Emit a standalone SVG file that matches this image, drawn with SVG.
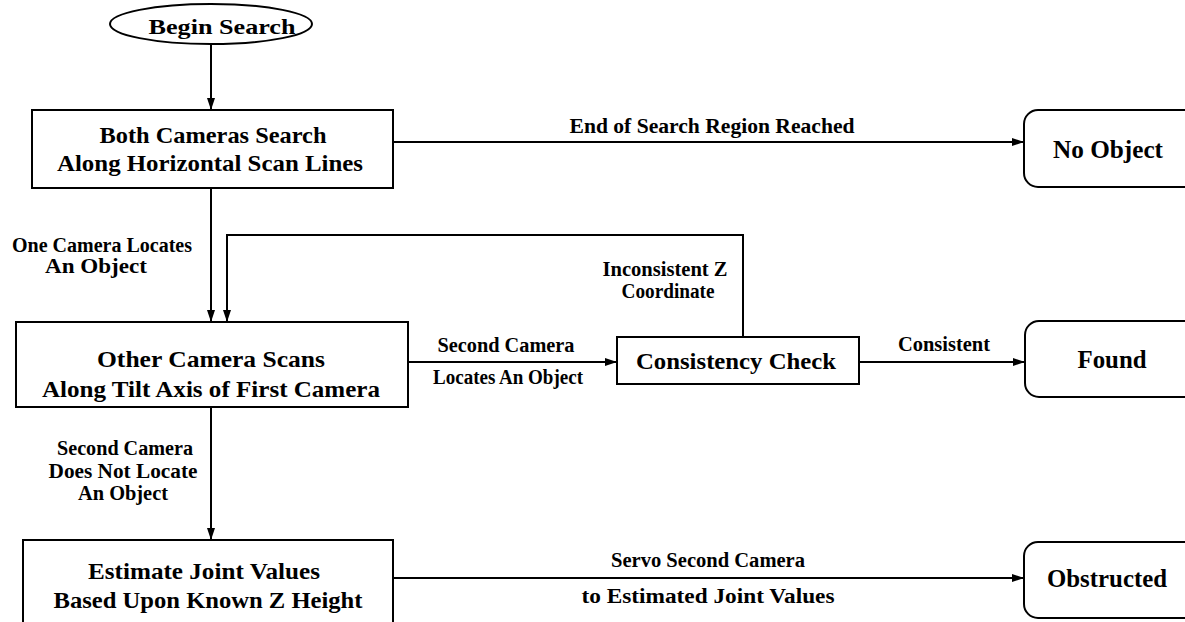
<svg xmlns="http://www.w3.org/2000/svg" width="1185" height="622" viewBox="0 0 1185 622">
  <style>
    .shape { fill: #fff; stroke: #000; stroke-width: 2; }
    .edge { fill: none; stroke: #000; stroke-width: 2; }
    text { font-family: "Liberation Serif", "Times New Roman", serif; font-weight: bold; fill: #000; text-anchor: middle; }
    .node { font-size: 24px; }
    .term { font-size: 25px; }
    .start { font-size: 22px; }
    .lbl { font-size: 20px; }
  </style>
  <defs>
    <marker id="arrow" viewBox="0 0 12 8" refX="12" refY="4" markerWidth="12" markerHeight="8" markerUnits="userSpaceOnUse" orient="auto">
      <path d="M0,0 L12,4 L0,8 Z" fill="#000"/>
    </marker>
  </defs>
  <rect width="1185" height="622" fill="#fff"/>

  <!-- connectors and their labels -->
  <g id="connectors">
    <path class="edge" d="M211,44 V110" marker-end="url(#arrow)"/>
    <path class="edge" d="M393,142 H1024" marker-end="url(#arrow)"/>
    <path class="edge" d="M211,188 V322" marker-end="url(#arrow)"/>
    <path class="edge" d="M743,337 V235 H227 V322" marker-end="url(#arrow)"/>
    <path class="edge" d="M408,362 H617" marker-end="url(#arrow)"/>
    <path class="edge" d="M859,362 H1025" marker-end="url(#arrow)"/>
    <path class="edge" d="M211,407 V540" marker-end="url(#arrow)"/>
    <path class="edge" d="M393,578 H1024" marker-end="url(#arrow)"/>

    <text class="lbl" x="712" y="133" textLength="285" lengthAdjust="spacingAndGlyphs">End of Search Region Reached</text>
    <text class="lbl" x="102" y="252" textLength="180" lengthAdjust="spacingAndGlyphs">One Camera Locates</text>
    <text class="lbl" x="96" y="273" textLength="102" lengthAdjust="spacingAndGlyphs">An Object</text>
    <text class="lbl" x="665" y="276" textLength="125" lengthAdjust="spacingAndGlyphs">Inconsistent Z</text>
    <text class="lbl" x="668" y="298" textLength="93" lengthAdjust="spacingAndGlyphs">Coordinate</text>
    <text class="lbl" x="506" y="352" textLength="137" lengthAdjust="spacingAndGlyphs">Second Camera</text>
    <text class="lbl" x="508" y="384" textLength="150" lengthAdjust="spacingAndGlyphs">Locates An Object</text>
    <text class="lbl" x="944" y="351" textLength="92" lengthAdjust="spacingAndGlyphs">Consistent</text>
    <text class="lbl" x="125" y="455" textLength="136" lengthAdjust="spacingAndGlyphs">Second Camera</text>
    <text class="lbl" x="123" y="478" textLength="149" lengthAdjust="spacingAndGlyphs">Does Not Locate</text>
    <text class="lbl" x="123" y="500" textLength="90" lengthAdjust="spacingAndGlyphs">An Object</text>
    <text class="lbl" x="708" y="567" textLength="194" lengthAdjust="spacingAndGlyphs">Servo Second Camera</text>
    <text class="lbl" x="708" y="603" textLength="253" lengthAdjust="spacingAndGlyphs">to Estimated Joint Values</text>
  </g>

  <g id="begin-search">
    <ellipse class="shape" cx="211" cy="24" rx="101" ry="20"/>
    <text class="start" x="222" y="34" textLength="147" lengthAdjust="spacingAndGlyphs">Begin Search</text>
  </g>

  <g id="both-cameras-search">
    <rect class="shape" x="32" y="110" width="361" height="78"/>
    <text class="node" x="213" y="143" textLength="227" lengthAdjust="spacingAndGlyphs">Both Cameras Search</text>
    <text class="node" x="210" y="171" textLength="306" lengthAdjust="spacingAndGlyphs">Along Horizontal Scan Lines</text>
  </g>

  <g id="no-object">
    <rect class="shape" x="1024" y="110" width="190" height="77" rx="14"/>
    <text class="term" x="1108" y="158" textLength="110" lengthAdjust="spacingAndGlyphs">No Object</text>
  </g>

  <g id="other-camera-scans">
    <rect class="shape" x="16" y="322" width="392" height="85"/>
    <text class="node" x="211" y="367" textLength="228" lengthAdjust="spacingAndGlyphs">Other Camera Scans</text>
    <text class="node" x="211" y="397" textLength="338" lengthAdjust="spacingAndGlyphs">Along Tilt Axis of First Camera</text>
  </g>

  <g id="consistency-check">
    <rect class="shape" x="617" y="337" width="242" height="47"/>
    <text class="node" x="736" y="369" textLength="200" lengthAdjust="spacingAndGlyphs">Consistency Check</text>
  </g>

  <g id="found">
    <rect class="shape" x="1025" y="321" width="190" height="76" rx="14"/>
    <text class="term" x="1112" y="368" textLength="69" lengthAdjust="spacingAndGlyphs">Found</text>
  </g>

  <g id="estimate-joint-values">
    <rect class="shape" x="23" y="540" width="370" height="100"/>
    <text class="node" x="204" y="579" textLength="232" lengthAdjust="spacingAndGlyphs">Estimate Joint Values</text>
    <text class="node" x="208" y="608" textLength="309" lengthAdjust="spacingAndGlyphs">Based Upon Known Z Height</text>
  </g>

  <g id="obstructed">
    <rect class="shape" x="1024" y="542" width="190" height="76" rx="14"/>
    <text class="term" x="1107" y="587" textLength="120" lengthAdjust="spacingAndGlyphs">Obstructed</text>
  </g>
</svg>
